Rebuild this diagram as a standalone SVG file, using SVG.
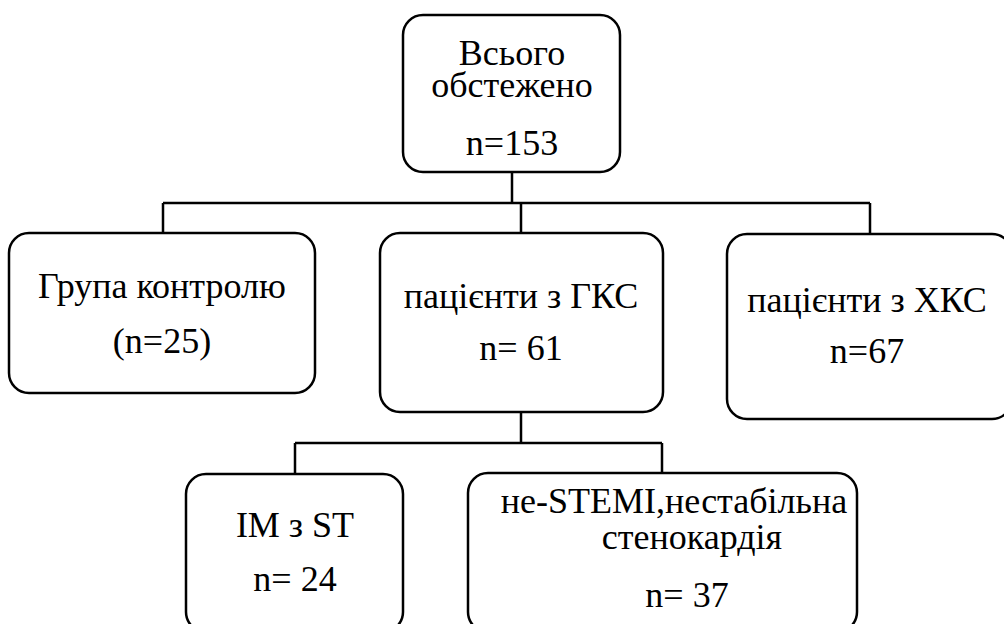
<svg xmlns="http://www.w3.org/2000/svg" width="1004" height="624" viewBox="0 0 1004 624">
<rect width="1004" height="624" fill="#fff"/>
<g id="connectors" fill="none" stroke="#000" stroke-width="2.5">
<path d="M512 172V203M163 203H870M163 203V233M521 203V233M870 203V234"/>
<path d="M521 412V443M295 443H662M295 443V474M662 443V473"/>
</g>
<g id="node-total">
<rect fill="#fff" stroke="#000" stroke-width="2.5" x="403" y="15" width="217" height="157" rx="20"/>
<text font-family="Liberation Serif" font-size="36" text-anchor="middle" x="512" y="65">Всього</text>
<text font-family="Liberation Serif" font-size="36" text-anchor="middle" x="512" y="97">обстежено</text>
<text font-family="Liberation Serif" font-size="36" text-anchor="middle" x="512" y="155">n=153</text>
</g>
<g id="node-control">
<rect fill="#fff" stroke="#000" stroke-width="2.5" x="9" y="233" width="306" height="160" rx="20"/>
<text font-family="Liberation Serif" font-size="36" text-anchor="middle" x="162" y="298">Група контролю</text>
<text font-family="Liberation Serif" font-size="36" text-anchor="middle" x="162" y="353">(n=25)</text>
</g>
<g id="node-gks">
<rect fill="#fff" stroke="#000" stroke-width="2.5" x="380" y="233" width="283" height="179" rx="20"/>
<text font-family="Liberation Serif" font-size="36" text-anchor="middle" x="521" y="308">пацієнти з ГКС</text>
<text font-family="Liberation Serif" font-size="36" text-anchor="middle" x="521" y="360">n= 61</text>
</g>
<g id="node-hks">
<rect fill="#fff" stroke="#000" stroke-width="2.5" x="727" y="234" width="285" height="185" rx="20"/>
<text font-family="Liberation Serif" font-size="36" text-anchor="middle" x="867" y="312">пацієнти з ХКС</text>
<text font-family="Liberation Serif" font-size="36" text-anchor="middle" x="867" y="363">n=67</text>
</g>
<g id="node-stemi">
<rect fill="#fff" stroke="#000" stroke-width="2.5" x="186" y="474" width="217" height="158" rx="20"/>
<text font-family="Liberation Serif" font-size="36" text-anchor="middle" x="295" y="537">IM з ST</text>
<text font-family="Liberation Serif" font-size="36" text-anchor="middle" x="295" y="591">n= 24</text>
</g>
<g id="node-nstemi">
<rect fill="#fff" stroke="#000" stroke-width="2.5" x="468" y="473" width="389" height="159" rx="20"/>
<text font-family="Liberation Serif" font-size="36" text-anchor="middle" x="674" y="513">не-STEMI,нестабільна</text>
<text font-family="Liberation Serif" font-size="36" text-anchor="middle" x="692" y="549">стенокардія</text>
<text font-family="Liberation Serif" font-size="36" text-anchor="middle" x="687" y="607">n= 37</text>
</g>
</svg>
